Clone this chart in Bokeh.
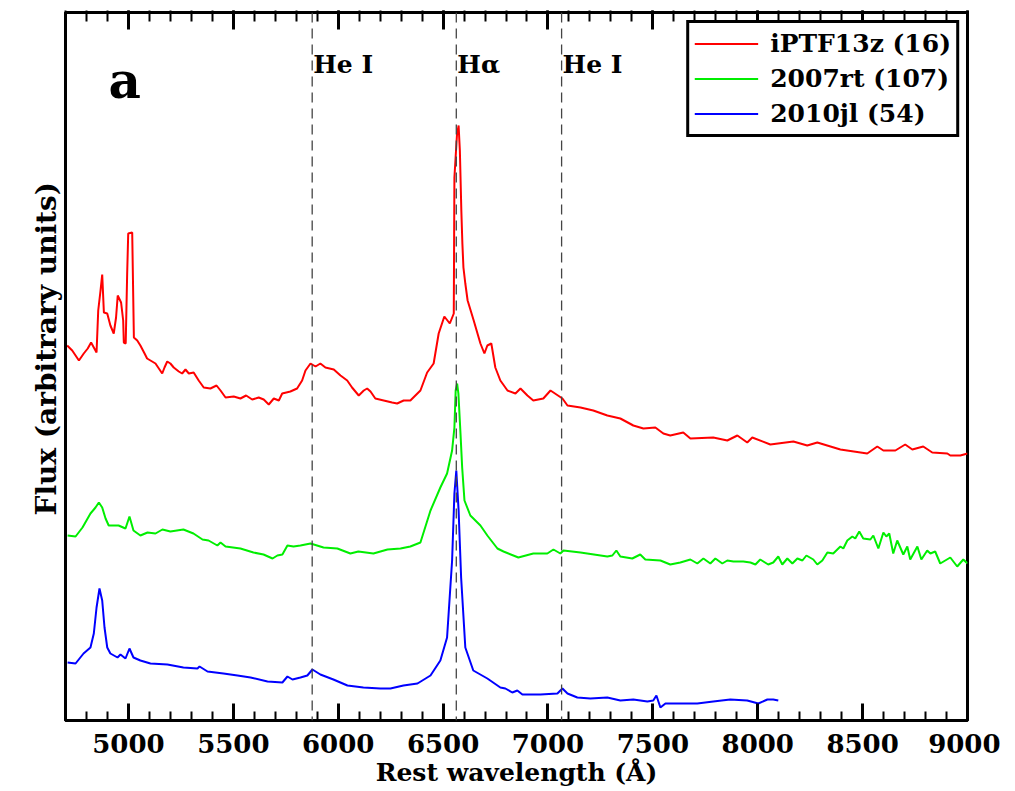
from bokeh.plotting import figure
from bokeh.models import (Range1d, LinearAxis, SingleIntervalTicker, FixedTicker, Span, Label,
                          Legend, LegendItem, CustomJSTickFormatter, Title)
from bokeh.embed import file_html
from bokeh.resources import INLINE

# ---- data (rest wavelength in Angstrom, flux in arbitrary offset units) ----
wl_ptf = [4708, 4732, 4764, 4787, 4806, 4822, 4835, 4848, 4856, 4867,
          4875, 4883, 4899, 4914, 4930, 4941, 4949, 4965, 4975, 4978,
          4987, 4994, 4999,
          5018, 5026, 5042, 5057, 5077, 5089, 5105, 5129, 5145, 5161,
          5172, 5185, 5200, 5216, 5240, 5256, 5272, 5288, 5311, 5335,
          5359, 5391, 5420, 5439, 5463, 5502, 5534, 5561, 5590, 5621,
          5645, 5669, 5693, 5717, 5733, 5772, 5804, 5828, 5844, 5868,
          5892, 5915, 5939, 5979, 6011, 6043, 6066, 6098, 6122, 6138,
          6154, 6177, 6217, 6257, 6281,
          6312, 6344, 6392, 6424, 6455, 6479, 6506, 6532, 6551, 6554,
          6566, 6574, 6580, 6587, 6592, 6597, 6606, 6617, 6646, 6678,
          6697, 6711, 6730, 6749, 6773, 6807, 6845, 6869, 6902, 6930,
          6978, 7012, 7069, 7093, 7155, 7216, 7283, 7345, 7407, 7455,
          7512, 7550, 7583, 7645, 7679, 7788, 7855, 7903, 7950, 7974,
          8060, 8170, 8236, 8284, 8394, 8522, 8570, 8599, 8656, 8703,
          8737, 8789, 8832, 8904, 8918, 8966, 9000]
fx_ptf = [3.75, 3.70, 3.60, 3.67, 3.72, 3.78, 3.73, 3.68, 4.10, 4.30,
          4.46, 4.08, 4.07, 3.95, 3.87, 4.03, 4.25, 4.18, 4.00, 3.78,
          3.77, 4.47, 4.87,
          4.88, 3.83, 3.80, 3.75, 3.67, 3.62, 3.60, 3.57, 3.52, 3.47,
          3.53, 3.59, 3.57, 3.53, 3.49, 3.47, 3.51, 3.47, 3.48, 3.40,
          3.33, 3.32, 3.35, 3.30, 3.23, 3.24, 3.22, 3.25, 3.21, 3.23,
          3.21, 3.16, 3.22, 3.20, 3.27, 3.29, 3.32, 3.40, 3.50, 3.57,
          3.54, 3.57, 3.53, 3.51, 3.45, 3.40, 3.33, 3.25, 3.30, 3.32,
          3.29, 3.22, 3.20, 3.18, 3.17,
          3.20, 3.20, 3.30, 3.48, 3.57, 3.87, 4.04, 3.97, 4.07, 5.43,
          5.85, 5.95, 5.70, 5.10, 4.77, 4.53, 4.37, 4.20, 4.00, 3.77,
          3.67, 3.75, 3.77, 3.53, 3.40, 3.30, 3.27, 3.32, 3.25, 3.20,
          3.22, 3.30, 3.22, 3.15, 3.13, 3.10, 3.05, 3.02, 2.95, 2.92,
          2.93, 2.87, 2.85, 2.88, 2.82, 2.83, 2.80, 2.85, 2.78, 2.83,
          2.76, 2.79, 2.75, 2.78, 2.71, 2.67, 2.74, 2.70, 2.70, 2.76,
          2.71, 2.74, 2.68, 2.67, 2.65, 2.65, 2.67]

wl_07rt = [4710, 4748, 4781, 4819, 4843, 4859, 4875, 4891, 4906, 4953,
           4986, 5005, 5024, 5057, 5091, 5129, 5162, 5200, 5262, 5310,
           5353, 5382, 5424, 5439, 5463, 5534, 5596, 5644, 5687, 5710,
           5734, 5758, 5787, 5820, 5868, 5930, 5996, 6058, 6096, 6168,
           6235, 6297, 6344, 6392, 6440, 6487, 6519, 6543, 6554, 6560,
           6567, 6573, 6583, 6591, 6602, 6630, 6678,
           6711, 6759, 6788, 6859, 6930, 6997, 7026, 7059, 7074, 7155,
           7283, 7307, 7326, 7345, 7402, 7440, 7464, 7536, 7583, 7631,
           7679, 7712, 7741, 7774, 7798, 7831, 7855, 7884, 7931, 7965,
           7989, 8012, 8050, 8074, 8098, 8117, 8141, 8165, 8189, 8213,
           8232, 8265, 8284, 8308, 8332, 8360, 8394, 8408, 8427, 8451,
           8465, 8484, 8503, 8537, 8551, 8575, 8599, 8613, 8627, 8646,
           8665, 8694, 8713, 8727, 8761, 8780, 8808, 8823, 8846, 8870,
           8918, 8951, 8980, 9000]
fx_07rt = [1.85, 1.84, 1.93, 2.07, 2.13, 2.18, 2.13, 2.02, 1.95, 1.95,
           1.92, 2.04, 1.90, 1.85, 1.88, 1.87, 1.91, 1.89, 1.91, 1.87,
           1.81, 1.80, 1.75, 1.78, 1.74, 1.72, 1.68, 1.66, 1.62, 1.65,
           1.66, 1.75, 1.74, 1.75, 1.77, 1.73, 1.72, 1.67, 1.69, 1.67,
           1.71, 1.72, 1.74, 1.78, 2.10, 2.33, 2.47, 2.70, 2.93, 3.30,
           3.37, 3.27, 2.87, 2.53, 2.20, 2.05, 1.95,
           1.85, 1.72, 1.69, 1.63, 1.67, 1.67, 1.71, 1.67, 1.70, 1.68,
           1.64, 1.65, 1.70, 1.64, 1.62, 1.66, 1.61, 1.60, 1.56, 1.58,
           1.61, 1.57, 1.62, 1.57, 1.62, 1.57, 1.60, 1.59, 1.59, 1.58,
           1.56, 1.61, 1.56, 1.58, 1.64, 1.56, 1.62, 1.57, 1.62, 1.60,
           1.65, 1.61, 1.56, 1.60, 1.68, 1.67, 1.74, 1.72, 1.80, 1.84,
           1.82, 1.89, 1.82, 1.81, 1.85, 1.72, 1.88, 1.84, 1.87, 1.67,
           1.80, 1.66, 1.74, 1.61, 1.74, 1.61, 1.70, 1.67, 1.69, 1.57,
           1.63, 1.54, 1.61, 1.57]

wl_10jl = [4710, 4748, 4786, 4819, 4835, 4848, 4862, 4875, 4886, 4899,
           4914, 4948, 4962, 4986, 5005, 5024, 5057, 5105, 5186, 5262,
           5329, 5339, 5377, 5453, 5520, 5582, 5663, 5734, 5758, 5782,
           5820, 5853, 5877, 5915, 5977, 6044, 6120, 6201, 6249, 6311,
           6378, 6440, 6487, 6519, 6543, 6554, 6563, 6574, 6586, 6606,
           6644, 6711, 6773, 6797, 6830, 6854, 6878, 6964, 7045, 7069,
           7093, 7140, 7202, 7283, 7345, 7407, 7474, 7502, 7517, 7536,
           7560, 7631, 7712, 7788, 7869, 7950, 8003, 8046, 8074, 8098]
fx_10jl = [0.58, 0.57, 0.67, 0.73, 0.87, 1.13, 1.32, 1.20, 0.93, 0.73,
           0.67, 0.63, 0.66, 0.62, 0.72, 0.63, 0.60, 0.57, 0.56, 0.53,
           0.52, 0.54, 0.49, 0.47, 0.45, 0.43, 0.39, 0.38, 0.44, 0.41,
           0.43, 0.45, 0.51, 0.46, 0.41, 0.35, 0.33, 0.32, 0.32, 0.35,
           0.37, 0.45, 0.60, 0.83, 1.60, 2.27, 2.50, 2.10, 1.43, 0.73,
           0.50, 0.42, 0.33, 0.32, 0.28, 0.30, 0.26, 0.26, 0.27, 0.32,
           0.27, 0.23, 0.22, 0.23, 0.20, 0.21, 0.19, 0.20, 0.25, 0.13,
           0.17, 0.17, 0.17, 0.19, 0.21, 0.20, 0.17, 0.21, 0.21, 0.20]

series_names = ["iPTF13z (16)", "2007rt (107)", "2010jl (54)"]
series_colors = ["#ff0000", "#00ee00", "#0000ff"]

line_positions = [5876, 6563, 7065]
line_names = ["He I", "H\u03b1", "He I"]

FONT = "DejaVu Serif"

p = figure(width=1000, height=790, output_backend="svg", toolbar_location=None,
           x_range=Range1d(4700, 9000), y_range=Range1d(0, 7.08),
           min_border_left=65, min_border_right=33, min_border_top=12, min_border_bottom=70,
           x_axis_label="Rest wavelength (\u00c5)")
p.grid.visible = False
p.outline_line_color = "black"
p.outline_line_width = 3
p.outline_line_alpha = 1.0
p.background_fill_color = "white"
p.border_fill_color = "white"

# bottom axis
xa = p.xaxis[0]
xa.ticker = SingleIntervalTicker(interval=500, num_minor_ticks=5)
xa.axis_line_width = 3
xa.axis_line_color = "black"
xa.major_tick_in = 17
xa.major_tick_out = 0
xa.minor_tick_in = 9
xa.minor_tick_out = 0
xa.major_tick_line_width = 3
xa.minor_tick_line_width = 2
xa.major_tick_line_color = "black"
xa.minor_tick_line_color = "black"
xa.major_label_text_font = FONT
xa.major_label_text_font_style = "bold"
xa.major_label_text_font_size = "26px"
xa.major_label_text_color = "black"
xa.major_label_standoff = 13
xa.axis_label_text_font = FONT
xa.axis_label_text_font_style = "bold"
xa.axis_label_text_font_size = "25px"
xa.axis_label_text_color = "black"
xa.axis_label_standoff = 2

# left axis (no ticks)
ya = p.yaxis[0]
ya.ticker = FixedTicker(ticks=[])
ya.axis_line_width = 3
ya.axis_line_color = "black"
ya.major_tick_line_color = None
ya.minor_tick_line_color = None

# y axis title as a side title, starting above the bottom of the frame as in the original
p.add_layout(Title(text="Flux (arbitrary units)", align="left", offset=205,
                   text_font=FONT, text_font_style="bold", text_font_size="28px",
                   text_color="black", standoff=6), "left")

# top axis mirror ticks (no labels)
ta = LinearAxis(ticker=SingleIntervalTicker(interval=500, num_minor_ticks=5),
                formatter=CustomJSTickFormatter(code="return ''"),
                major_tick_in=17, major_tick_out=2, minor_tick_in=9, minor_tick_out=2,
                major_tick_line_width=3, minor_tick_line_width=2, axis_line_width=3,
                major_tick_line_color="black", minor_tick_line_color="black",
                axis_line_color="black", major_label_standoff=0)
p.add_layout(ta, "above")

# reference lines
for pos in line_positions:
    p.add_layout(Span(location=pos, dimension="height", line_color="#444444",
                      line_width=1.3, line_dash="10 6"))
for pos, name in zip(line_positions, line_names):
    p.add_layout(Label(x=pos, y=6.42, text=name, x_offset=1, text_font=FONT,
                       text_font_style="bold", text_font_size="25px", text_color="black"))

p.add_layout(Label(x=4700, y=6.11, x_offset=43, text="a", text_font=FONT,
                   text_font_style="bold", text_font_size="50px", text_color="black"))

r1 = p.line(wl_ptf, fx_ptf, line_color=series_colors[0], line_width=2)
r2 = p.line(wl_07rt, fx_07rt, line_color=series_colors[1], line_width=2)
r3 = p.line(wl_10jl, fx_10jl, line_color=series_colors[2], line_width=2)

legend = Legend(items=[LegendItem(label=series_names[0], renderers=[r1]),
                       LegendItem(label=series_names[1], renderers=[r2]),
                       LegendItem(label=series_names[2], renderers=[r3])],
                location="top_right", border_line_color="black", border_line_width=3,
                border_line_alpha=1.0,
                label_text_font=FONT, label_text_font_style="bold", label_text_font_size="25px",
                label_text_color="black",
                glyph_width=64, glyph_height=31, spacing=4, padding=5, margin=8,
                label_standoff=12, background_fill_alpha=1.0)
p.add_layout(legend)

open("out.html", "w").write(file_html(p, INLINE))
